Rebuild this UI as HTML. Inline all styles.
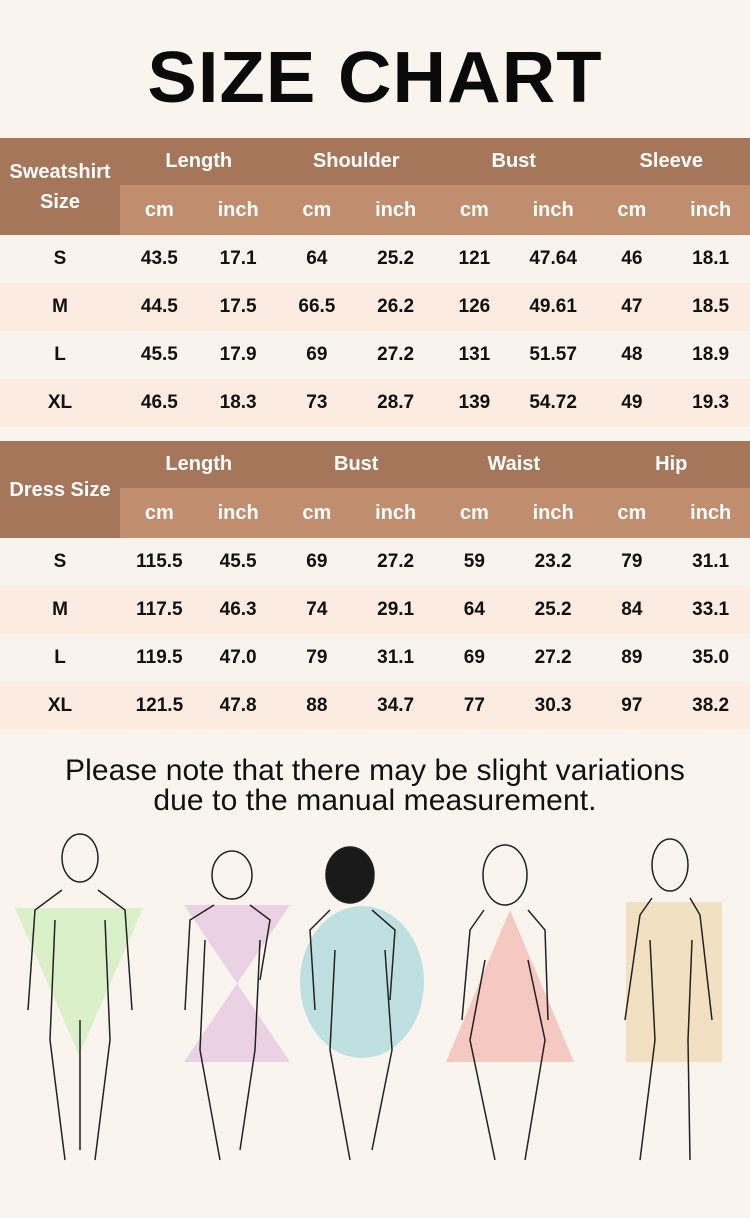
<!DOCTYPE html>
<html><head><meta charset="utf-8"><style>
body{margin:0;width:750px;height:1218px;background:#f9f4ee;font-family:"Liberation Sans",sans-serif;position:relative;overflow:hidden}
h1{position:absolute;top:36px;left:0;width:750px;margin:0;text-align:center;font-size:72px;font-weight:900;letter-spacing:1px;color:#0a0a0a;line-height:84px;transform:scaleX(1.03)}
table{position:absolute;left:0;width:750px;border-collapse:collapse;table-layout:fixed}
td,th{padding:0;text-align:center;font-weight:bold}
th{color:#fff;font-size:20px}
.h1 th{background:#a6765a;height:47px}
.h2 th{background:#c08d6e;height:50px}
th.sz{background:#a6765a;line-height:30px}
td{height:48px;font-size:19px;color:#111}
tr.a td{background:#f9f3ee}
tr.b td{background:#fbebe1}
.note{position:absolute;top:756px;width:750px;text-align:center;font-size:30px;line-height:30px;color:#111;letter-spacing:0.1px}
</style></head><body>
<h1>SIZE CHART</h1>
<table style="top:138px">
<colgroup><col style="width:120px"><col span="8"></colgroup>
<tr class="h1"><th class="sz" rowspan="2">Sweatshirt<br>Size</th><th colspan="2">Length</th><th colspan="2">Shoulder</th><th colspan="2">Bust</th><th colspan="2">Sleeve</th></tr>
<tr class="h2"><th>cm</th><th>inch</th><th>cm</th><th>inch</th><th>cm</th><th>inch</th><th>cm</th><th>inch</th></tr>
<tr class="a"><td>S</td><td>43.5</td><td>17.1</td><td>64</td><td>25.2</td><td>121</td><td>47.64</td><td>46</td><td>18.1</td></tr>
<tr class="b"><td>M</td><td>44.5</td><td>17.5</td><td>66.5</td><td>26.2</td><td>126</td><td>49.61</td><td>47</td><td>18.5</td></tr>
<tr class="a"><td>L</td><td>45.5</td><td>17.9</td><td>69</td><td>27.2</td><td>131</td><td>51.57</td><td>48</td><td>18.9</td></tr>
<tr class="b"><td>XL</td><td>46.5</td><td>18.3</td><td>73</td><td>28.7</td><td>139</td><td>54.72</td><td>49</td><td>19.3</td></tr>
</table>
<table style="top:441px">
<colgroup><col style="width:120px"><col span="8"></colgroup>
<tr class="h1"><th class="sz" rowspan="2">Dress Size</th><th colspan="2">Length</th><th colspan="2">Bust</th><th colspan="2">Waist</th><th colspan="2">Hip</th></tr>
<tr class="h2"><th>cm</th><th>inch</th><th>cm</th><th>inch</th><th>cm</th><th>inch</th><th>cm</th><th>inch</th></tr>
<tr class="a"><td>S</td><td>115.5</td><td>45.5</td><td>69</td><td>27.2</td><td>59</td><td>23.2</td><td>79</td><td>31.1</td></tr>
<tr class="b"><td>M</td><td>117.5</td><td>46.3</td><td>74</td><td>29.1</td><td>64</td><td>25.2</td><td>84</td><td>33.1</td></tr>
<tr class="a"><td>L</td><td>119.5</td><td>47.0</td><td>79</td><td>31.1</td><td>69</td><td>27.2</td><td>89</td><td>35.0</td></tr>
<tr class="b"><td>XL</td><td>121.5</td><td>47.8</td><td>88</td><td>34.7</td><td>77</td><td>30.3</td><td>97</td><td>38.2</td></tr>
</table>
<div class="note">Please note that there may be slight variations<br>due to the manual measurement.</div>
<svg style="position:absolute;left:0;top:820px" width="750" height="360">
<g fill="none" stroke="#222" stroke-width="1.5">
<polygon points="15,88 143,88 79,235" fill="#d9f0c8" stroke="none"/>
<polygon points="184,85 290,85 184,242 290,242" fill="#ead2e4" stroke="none"/>
<ellipse cx="362" cy="162" rx="62" ry="76" fill="#bfe0e0" stroke="none"/>
<polygon points="510,90 446,242 574,242" fill="#f6c8c2" stroke="none"/>
<rect x="626" y="82" width="96" height="160" fill="#f1e0c2" stroke="none"/>
<g>
<ellipse cx="80" cy="38" rx="18" ry="24"/><path d="M62,70 L35,90 L28,190 M98,70 L125,90 L132,190 M55,100 L50,220 L65,340 M105,100 L110,220 L95,340 M80,200 L80,330"/>
<ellipse cx="232" cy="55" rx="20" ry="24"/><path d="M214,85 L190,100 L185,190 M250,85 L270,100 L260,160 M205,120 L200,230 L220,340 M260,120 L255,230 L240,330"/>
<ellipse cx="350" cy="55" rx="24" ry="28" fill="#1a1a1a"/><path d="M330,90 L310,110 L315,190 M372,90 L395,110 L390,180 M335,130 L330,230 L350,340 M385,130 L392,230 L372,330"/>
<ellipse cx="505" cy="55" rx="22" ry="30"/><path d="M484,90 L470,110 L462,200 M528,90 L545,110 L548,200 M485,140 L470,220 L495,340 M528,140 L545,220 L525,340"/>
<ellipse cx="670" cy="45" rx="18" ry="26"/><path d="M652,78 L640,95 L625,200 M690,78 L700,95 L712,200 M650,120 L655,220 L640,340 M692,120 L688,220 L690,340"/>
</g></g></svg>
</body></html>
